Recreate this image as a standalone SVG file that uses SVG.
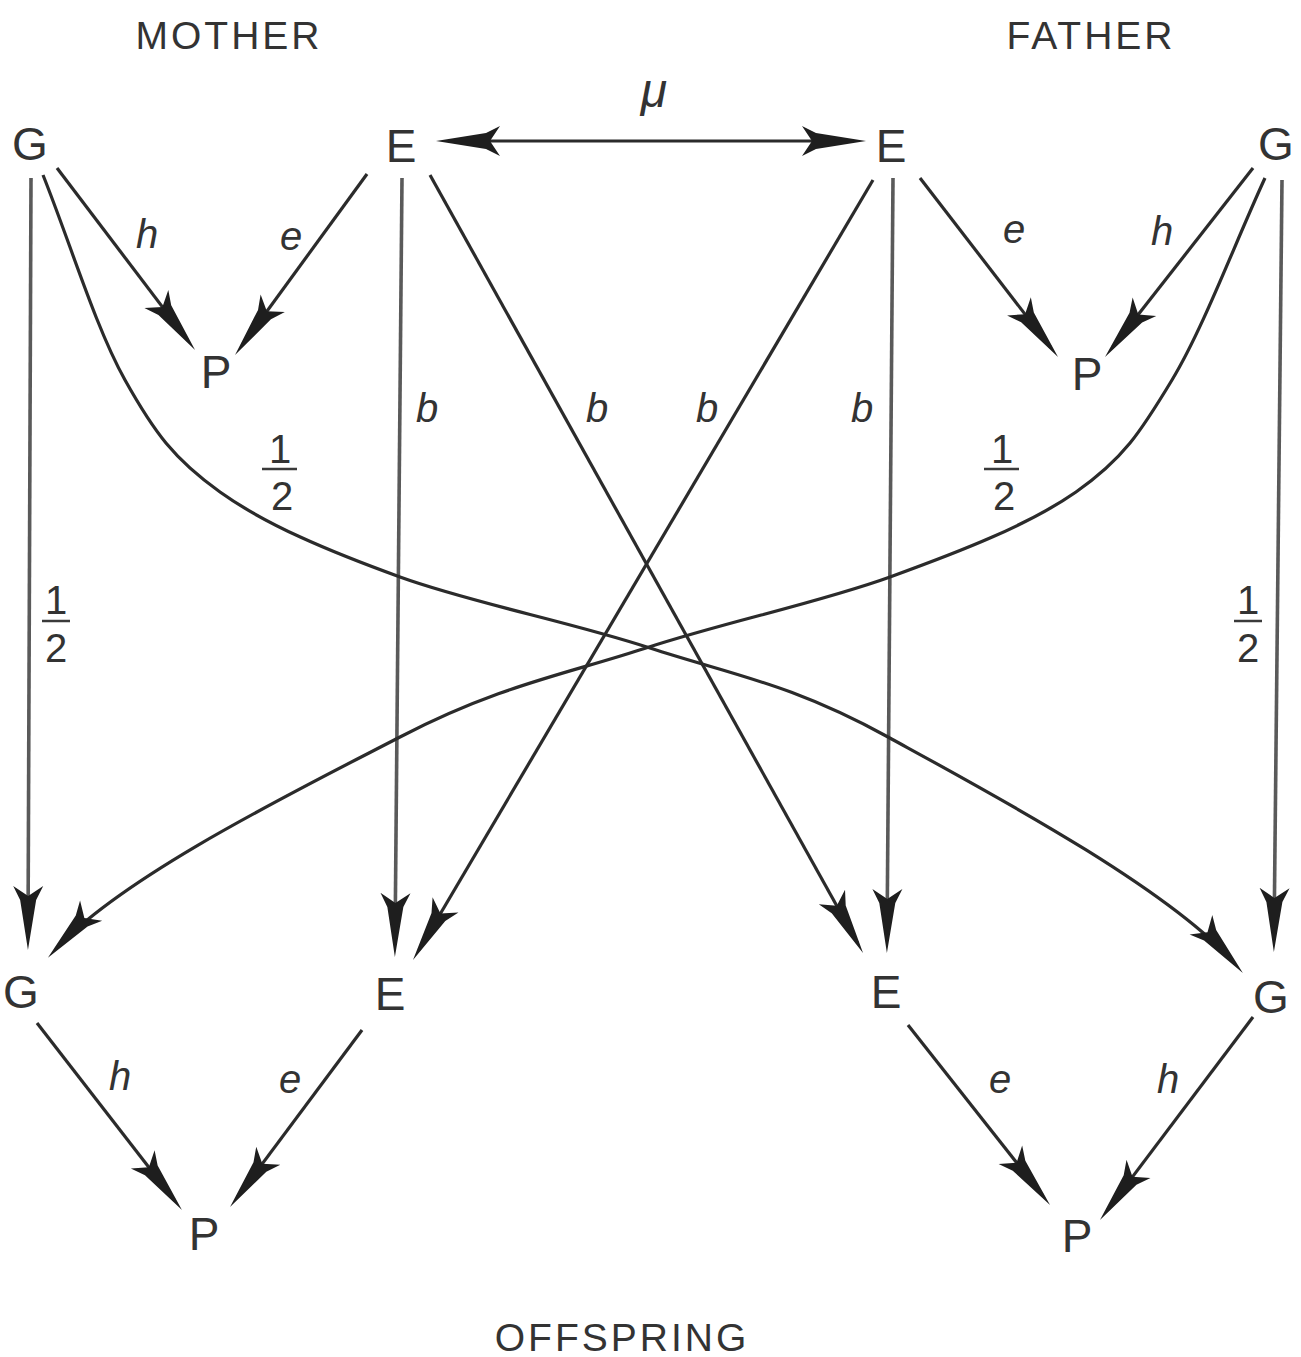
<svg xmlns="http://www.w3.org/2000/svg" width="1301" height="1357" viewBox="0 0 1301 1357">
<style>
.t{font-family:"Liberation Sans",Arial,sans-serif;fill:#333333;text-anchor:middle}
.node{font-size:46px}
.title{font-size:39px;letter-spacing:3px}
.lab{font-size:40px;font-style:italic}
.mu{font-size:48px;font-style:italic}
.num{font-size:40px}
.c{fill:none;stroke:#2b2b2b;stroke-width:3.2}
.v{fill:none;stroke:#5a5a5a;stroke-width:3.6}
.bar{stroke:#3a3a3a;stroke-width:2.5}
</style>
<defs>
<marker id="arr" markerUnits="userSpaceOnUse" viewBox="-60 -20 80 40" markerWidth="80" markerHeight="40" refX="0" refY="0" orient="auto-start-reverse" overflow="visible">
<path d="M12,0 L-38,-8 L-52,-15 L-42,0 L-52,15 L-38,8 Z" fill="#1e1e1e"/>
</marker>
</defs>
<rect width="1301" height="1357" fill="#ffffff"/>

<g id="titles">
<text class="t title" x="229" y="49">MOTHER</text>
<text class="t title" x="1091" y="49">FATHER</text>
<text class="t title" x="622" y="1351">OFFSPRING</text>
</g>

<g id="connectors">
<line class="c" x1="57" y1="168" x2="187.8" y2="340.4" marker-end="url(#arr)"/>
<line class="c" x1="367" y1="174" x2="242.1" y2="345.3" marker-end="url(#arr)"/>
<line class="c" x1="920" y1="178" x2="1050.7" y2="347.5" marker-end="url(#arr)"/>
<line class="c" x1="1253" y1="168" x2="1112.4" y2="347.6" marker-end="url(#arr)"/>
<line class="c" x1="448" y1="141" x2="854" y2="141" marker-start="url(#arr)" marker-end="url(#arr)"/>
<line class="v" x1="31" y1="178" x2="28" y2="938" marker-end="url(#arr)"/>
<line class="v" x1="402" y1="178" x2="395" y2="945" marker-end="url(#arr)"/>
<line class="v" x1="893" y1="178" x2="887" y2="941" marker-end="url(#arr)"/>
<line class="v" x1="1282" y1="180" x2="1274" y2="940" marker-end="url(#arr)"/>
<line class="c" x1="430" y1="175" x2="857.2" y2="942.5" marker-end="url(#arr)"/>
<line class="c" x1="873" y1="180" x2="419.1" y2="949.7" marker-end="url(#arr)"/>
<path class="c" d="M43,175 C70.3,243.3 95.5,327.2 125,380 C154.5,432.8 174.2,459.2 220,492 C265.8,524.8 328.3,551 400,577 C471.7,603 568.7,621.3 650,648 C731.3,674.7 789.2,682.8 888,737 C986.8,791.2 1169.5,888.4 1235,964" marker-end="url(#arr)"/>
<path class="c" d="M1265,178 C1234,245.3 1203.5,327.7 1172,380 C1140.5,432.3 1123,459.2 1076,492 C1029,524.8 961.7,551 890,577 C818.3,603 727.7,621.3 646,648 C564.3,674.7 499.7,685.3 400,737 C300.3,788.7 123.5,875.3 56,949" marker-end="url(#arr)"/>
<line class="c" x1="37" y1="1023" x2="174.6" y2="1200.5" marker-end="url(#arr)"/>
<line class="c" x1="362" y1="1030" x2="237.2" y2="1197.4" marker-end="url(#arr)"/>
<line class="c" x1="908" y1="1025" x2="1042.6" y2="1195.6" marker-end="url(#arr)"/>
<line class="c" x1="1253" y1="1017" x2="1107.2" y2="1210.4" marker-end="url(#arr)"/>
</g>

<g id="edge-labels">
<text class="t mu" x="654" y="107">μ</text>
<text class="t lab" x="147" y="248">h</text>
<text class="t lab" x="291" y="250">e</text>
<text class="t lab" x="1014" y="243">e</text>
<text class="t lab" x="1162" y="245">h</text>
<text class="t lab" x="427" y="422">b</text>
<text class="t lab" x="597" y="422">b</text>
<text class="t lab" x="707" y="422">b</text>
<text class="t lab" x="862" y="422">b</text>
<text class="t lab" x="120" y="1090">h</text>
<text class="t lab" x="290" y="1093">e</text>
<text class="t lab" x="1000" y="1093">e</text>
<text class="t lab" x="1168" y="1093">h</text>
<g id="frac-mother-vertical">
<text class="t num" x="56" y="614">1</text>
<line class="bar" x1="42" y1="621" x2="70" y2="621"/>
<text class="t num" x="56" y="662">2</text>
</g>
<g id="frac-mother-curve">
<text class="t num" x="280" y="463">1</text>
<line class="bar" x1="262" y1="469" x2="297" y2="469"/>
<text class="t num" x="282" y="510">2</text>
</g>
<g id="frac-father-curve">
<text class="t num" x="1002" y="463">1</text>
<line class="bar" x1="984" y1="469" x2="1019" y2="469"/>
<text class="t num" x="1004" y="510">2</text>
</g>
<g id="frac-father-vertical">
<text class="t num" x="1248" y="614">1</text>
<line class="bar" x1="1234" y1="621" x2="1262" y2="621"/>
<text class="t num" x="1248" y="662">2</text>
</g>
</g>

<g id="node-mother-G"><text class="t node" x="30" y="160">G</text></g>
<g id="node-mother-E"><text class="t node" x="401" y="162">E</text></g>
<g id="node-mother-P"><text class="t node" x="216" y="388">P</text></g>
<g id="node-father-E"><text class="t node" x="891" y="162">E</text></g>
<g id="node-father-G"><text class="t node" x="1276" y="160">G</text></g>
<g id="node-father-P"><text class="t node" x="1087" y="390">P</text></g>
<g id="node-offspring-G-left"><text class="t node" x="21" y="1008">G</text></g>
<g id="node-offspring-E-left"><text class="t node" x="390" y="1010">E</text></g>
<g id="node-offspring-P-left"><text class="t node" x="204" y="1250">P</text></g>
<g id="node-offspring-E-right"><text class="t node" x="886" y="1008">E</text></g>
<g id="node-offspring-G-right"><text class="t node" x="1271" y="1013">G</text></g>
<g id="node-offspring-P-right"><text class="t node" x="1077" y="1252">P</text></g>
</svg>
